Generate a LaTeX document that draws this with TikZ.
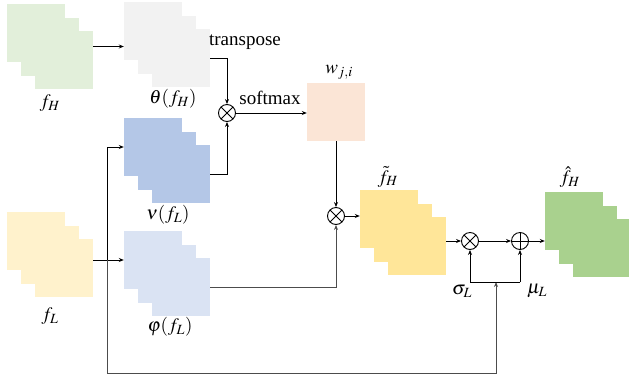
\documentclass[tikz,border=0pt]{standalone}
\usepackage{mathptmx}
\usepackage[no-math]{fontspec}
\setmainfont{Liberation Serif}
\usetikzlibrary{arrows.meta}

% colores de los mapas de caracteristicas
\definecolor{verdeclaro}{HTML}{E2EFDA}
\definecolor{grisclaro}{HTML}{F2F2F2}
\definecolor{azul}{HTML}{B4C7E7}
\definecolor{azulclaro}{HTML}{DAE3F3}
\definecolor{amarilloclaro}{HTML}{FFF2CC}
\definecolor{salmon}{HTML}{FBE5D6}
\definecolor{amarillo}{HTML}{FFE699}
\definecolor{verde}{HTML}{A9D18E}

\tikzset{
    mapa/.style={inner sep=0pt, minimum size=58pt},
    flecha/.style={-{Stealth[length=5pt,width=4pt]}, line width=0.9pt},
    linea/.style={line width=0.9pt},
    gris/.style={draw=black!70},
    op/.style={circle, draw, line width=0.9pt, minimum size=17pt, inner sep=0pt},
    por/.style={op, path picture={
        \draw[line width=0.9pt] (path picture bounding box.south west) -- (path picture bounding box.north east);
        \draw[line width=0.9pt] (path picture bounding box.north west) -- (path picture bounding box.south east);}},
    mas/.style={op, path picture={
        \draw[line width=0.9pt] (path picture bounding box.north) -- (path picture bounding box.south);
        \draw[line width=0.9pt] (path picture bounding box.west) -- (path picture bounding box.east);}}
}

% tres cuadrados desplazados: #1 nombre, (#2,#3) esquina, #4 color
\newcommand{\pila}[4]{%
    \foreach \i in {0,1,2} {
        \node[mapa, fill=#4] (#1\i) at (#2+29+14*\i, #3+29+13.5*\i) {};
    }%
}

\begin{document}
\begin{tikzpicture}[x=1pt, y=-1pt, font=\fontsize{19}{22}\selectfont]
    \useasboundingbox (0,0) rectangle (629,381);

    % Mapas de caracteristicas
    \pila{fH}{7}{4}{verdeclaro}
    \pila{th}{124}{2}{grisclaro}
    \pila{nu}{124}{118}{azul}
    \pila{fL}{7}{212}{amarilloclaro}
    \pila{ph}{124}{231}{azulclaro}
    \pila{ft}{360}{190}{amarillo}
    \pila{fh}{545}{192}{verde}
    \node[mapa, fill=salmon] (w) at (336,112) {};

    % Operaciones
    \node[por] (m1) at (227,113) {};
    \node[por] (m2) at (336,216) {};
    \node[por] (m3) at (470,241) {};
    \node[mas] (a1) at (520,241) {};

    % Puntos de union
    \coordinate (jL) at (107,260);
    \coordinate (jB) at (107,373);
    \coordinate (js) at (496,282);

    % Etiquetas
    \node (lfH) at (50,103) {$f_H$};
    \node (lth) at (173,99) {$\theta(f_H)$};
    \node (lnu) at (168,215) {$\nu(f_L)$};
    \node (lfL) at (50,316) {$f_L$};
    \node (lph) at (170,327) {$\varphi(f_L)$};
    \node (lw) at (339,72) {$w_{j,i}$};
    \node (lft) at (388,177) {$\tilde{f}_H$};
    \node (lfh) at (570,177) {$\hat{f}_H$};
    \node (ls) at (462,291) {$\sigma_L$};
    \node (lm) at (537,291) {$\mu_L$};
    \node (ltr) at (245,42) {transpose};
    \node (lsm) at (270,98) {softmax};

    % Conexiones
    \draw[flecha] (fH2.east |- fH1) -- (th0.west |- fH1);
    \draw[flecha] (th2.east) -| (m1.north);
    \draw[flecha] (nu2.east) -| (m1.south);
    \draw[flecha] (m1.east) -- (m1 -| w.west);
    \draw[flecha] (w.south) -- (m2.north);
    \draw[linea] (fL2.east |- jL) -- (jL);
    \draw[flecha] (jL) |- (nu0.west);
    \draw[flecha] (jL) -- (ph0.west);
    \draw[flecha, gris] (ph2.east) -| (m2.south);
    \draw[flecha] (m2.east) -- (m2 -| ft0.west);
    \draw[flecha] (m3 -| ft2.east) -- (m3.west);
    \draw[flecha] (m3.east) -- (a1.west);
    \draw[flecha] (a1.east) -- (a1 -| fh0.west);
    \draw[flecha, gris] (jL) -- (jB) -| (js);
    \draw[linea] (m3 |- js) -- (a1 |- js);
    \draw[flecha] (m3 |- js) -- (m3.south);
    \draw[flecha] (a1 |- js) -- (a1.south);
\end{tikzpicture}
\end{document}
